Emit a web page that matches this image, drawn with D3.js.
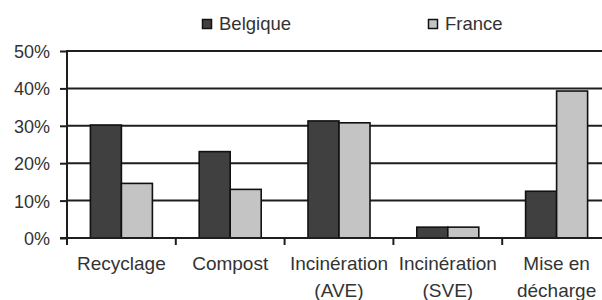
<!DOCTYPE html>
<html>
<head>
<meta charset="utf-8">
<script src="https://cdn.jsdelivr.net/npm/d3@7"></script>
<style>
  body { margin: 0; background: #fff; }
  svg { display: block; font-family: "Liberation Sans", Arial, sans-serif; }
</style>
</head>
<body>
<div id="chart"></div>
<script>
const categories = [["Recyclage"], ["Compost"], ["Incinération", "(AVE)"], ["Incinération", "(SVE)"], ["Mise en", "décharge"]];
const series = ["Belgique", "France"];
const belgique = [0.302, 0.231, 0.313, 0.029, 0.125];
const france = [0.146, 0.130, 0.308, 0.029, 0.393];
const yTicks = [0, 0.1, 0.2, 0.3, 0.4, 0.5];

const colors = { "Belgique": "#404040", "France": "#c4c4c4" };
const values = { "Belgique": belgique, "France": france };

const chartW = 602, chartH = 300;
const plotLeft = 67, plotTop = 51, plotBottom = 238;
const bandW = 108.8, barW = 31;

const svg = d3.select("#chart").append("svg")
    .attr("width", chartW)
    .attr("height", chartH);

const keys = categories.map((c, i) => i);
const x = d3.scaleBand().domain(keys).range([plotLeft, plotLeft + bandW * categories.length]);
const xs = d3.scaleBand().domain(series).range([x.bandwidth() / 2 - barW, x.bandwidth() / 2 + barW]);
const y = d3.scaleLinear().domain([0, 0.5]).range([plotBottom, plotTop]);

// grid lines
svg.append("g")
   .selectAll("line")
   .data(yTicks.filter(d => d > 0))
   .enter().append("line")
   .attr("x1", plotLeft).attr("x2", chartW)
   .attr("y1", d => y(d)).attr("y2", d => y(d))
   .attr("stroke", "#1e1e1e")
   .attr("stroke-width", 2);

// bars
const groups = svg.append("g")
   .selectAll("g")
   .data(keys)
   .enter().append("g")
   .attr("transform", d => `translate(${x(d)},0)`);

groups.selectAll("rect")
   .data(i => series.map(s => ({ s: s, v: values[s][i] })))
   .enter().append("rect")
   .attr("x", d => xs(d.s))
   .attr("y", d => y(d.v))
   .attr("width", xs.bandwidth())
   .attr("height", d => plotBottom - y(d.v))
   .attr("fill", d => colors[d.s])
   .attr("stroke", "#111")
   .attr("stroke-width", 1.6);

// y axis
const yAxis = svg.append("g")
   .attr("transform", `translate(${plotLeft},0)`)
   .call(d3.axisLeft(y).tickValues(yTicks).tickFormat(d3.format(".0%")).tickSize(7).tickPadding(10));
yAxis.select(".domain").remove();
yAxis.selectAll(".tick line").attr("stroke", "#1e1e1e").attr("stroke-width", 2);
yAxis.selectAll(".tick text").attr("fill", "#333").style("font-size", "18px").attr("dy", "0.36em");
svg.append("line")
   .attr("x1", plotLeft).attr("x2", plotLeft)
   .attr("y1", plotTop - 1).attr("y2", plotBottom + 7)
   .attr("stroke", "#1e1e1e").attr("stroke-width", 2);

// x axis
svg.append("line")
   .attr("x1", plotLeft - 7).attr("x2", chartW)
   .attr("y1", plotBottom).attr("y2", plotBottom)
   .attr("stroke", "#1e1e1e").attr("stroke-width", 2);
svg.append("g")
   .selectAll("line")
   .data(keys.slice(1))
   .enter().append("line")
   .attr("x1", d => x(d)).attr("x2", d => x(d))
   .attr("y1", plotBottom).attr("y2", plotBottom + 7)
   .attr("stroke", "#1e1e1e").attr("stroke-width", 2);

const labels = svg.append("g")
   .selectAll("text")
   .data(keys)
   .enter().append("text")
   .attr("x", d => x(d) + x.bandwidth() / 2)
   .attr("y", 270)
   .attr("text-anchor", "middle")
   .attr("fill", "#333")
   .style("font-size", "19px");
labels.selectAll("tspan")
   .data(d => categories[d])
   .enter().append("tspan")
   .attr("x", function () { return d3.select(this.parentNode).attr("x"); })
   .attr("dy", (d, i) => i === 0 ? 0 : 26.5)
   .text(d => d);

// legend
const legendX = { "Belgique": 202, "France": 428 };
const legend = svg.append("g")
   .selectAll("g")
   .data(series)
   .enter().append("g")
   .attr("transform", d => `translate(${legendX[d]},19)`);
legend.append("rect")
   .attr("x", 0.5).attr("y", 0.5)
   .attr("width", 9).attr("height", 9)
   .attr("fill", d => colors[d])
   .attr("stroke", "#111")
   .attr("stroke-width", 1.5);
legend.append("text")
   .attr("x", 17)
   .attr("y", 11)
   .attr("fill", "#333")
   .style("font-size", "18.5px")
   .text(d => d);
</script>
</body>
</html>
